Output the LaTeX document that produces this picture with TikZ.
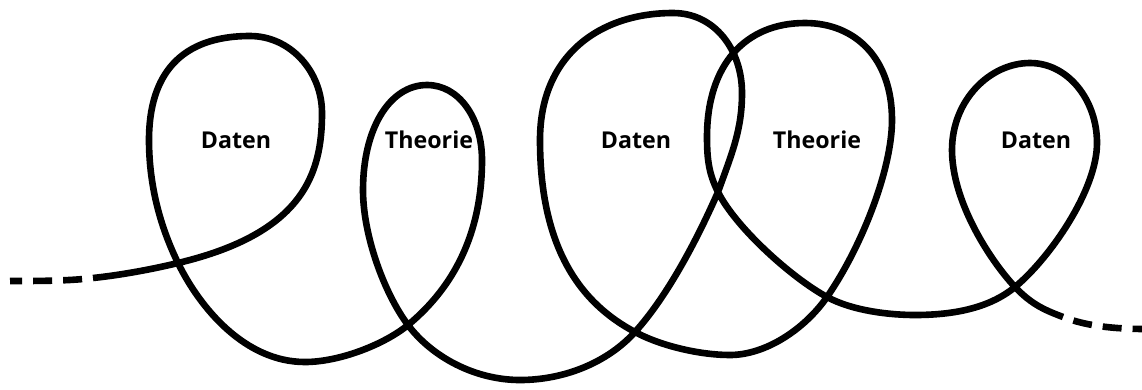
\documentclass[tikz,border=0pt]{standalone}
\usepackage{fontspec}
\setmainfont{Open Sans}
\usepackage{tikz}
\usetikzlibrary{positioning}
\tikzset{
  loopline/.style={line width=4.7pt, draw=black},
  dashend/.style ={line width=4.7pt, draw=black, dash pattern=on 13.5pt off 7.8pt,
                   dash phase=13.5pt},
  lbl/.style     ={font=\fontsize{16.5}{18}\selectfont\bfseries, inner sep=0pt}
}
\begin{document}
\begin{tikzpicture}[x=0.025cm, y=-0.025cm]
\useasboundingbox (0,0) rectangle (1142,389);
% ---- crossings and ends of the line ----
\coordinate (start) at (93,278);
\coordinate (xa) at (178,263);
\coordinate (xb) at (408,325);
\coordinate (xc) at (635,332);
\coordinate (xd) at (718,192);
\coordinate (xe) at (827,297);
\coordinate (xf) at (1015,287);
\coordinate (stop) at (1063,317);

% ---- labels ----
\node[lbl] (daten1) at (236,140) {Daten};
\node[lbl] (theorie1) at (429,140) {Theorie};
\node[lbl] (daten2) at (636,140) {Daten};
\node[lbl] (theorie2) at (817,140) {Theorie};
\node[lbl] (daten3) at (1036,140) {Daten};

% ---- loose ends ----
\draw[dashend] (start) .. controls (68,281) and (40,281) .. (10,281);
\draw[dashend] (stop) .. controls (1085,325.5) and (1112,329) .. (1146,329);

% ---- the loop line ----
\draw[loopline] (start) .. controls (121,275) and (151,269.5) .. (xa)
  .. controls (304,233) and (322,173) .. (322,113)
  .. controls (322,71) and (290,36) .. (250,36)
  .. controls (180,36) and (149,75) .. (149,140)
  .. controls (149,190) and (162.6,231.5) .. (xa)
  .. controls (200,308) and (245,362) .. (305,362)
  .. controls (340,362) and (385,344) .. (xb)
  % Theorie
  .. controls (466,277) and (482,215) .. (482,160)
  .. controls (482,118) and (459,85) .. (427,85)
  .. controls (390,85) and (363,128) .. (363,190)
  .. controls (363,235) and (384,293) .. (xb)
  .. controls (432,357) and (475,380) .. (520,380)
  .. controls (565,380) and (608,362) .. (xc)
  % Daten
  .. controls (668.5,295) and (698.5,236.5) .. (xd)
  .. controls (732,153) and (742,130) .. (742,93)
  .. controls (742,50) and (715,13) .. (673,13)
  .. controls (600,13) and (540,55) .. (540,140)
  .. controls (540,250) and (582,304) .. (xc)
  .. controls (661,346) and (700,355) .. (730,355)
  .. controls (765,355) and (804,330) .. (xe)
  % Theorie
  .. controls (861,248) and (892,170) .. (892,120)
  .. controls (892,58) and (855,23) .. (805,23)
  .. controls (745,23) and (707,65) .. (707,137)
  .. controls (707,160) and (709,174) .. (xd)
  .. controls (736,228) and (792,278) .. (xe)
  .. controls (853,311) and (890,315) .. (915,315)
  .. controls (950,315) and (988,309.4) .. (xf)
  % Daten
  .. controls (1050,258) and (1097,190) .. (1097,143)
  .. controls (1097,100) and (1068,63) .. (1030,63)
  .. controls (990,63) and (952,100) .. (952,150)
  .. controls (952,200) and (988,258) .. (xf)
  .. controls (1032,305) and (1046,310.5) .. (stop);
\end{tikzpicture}
\end{document}
